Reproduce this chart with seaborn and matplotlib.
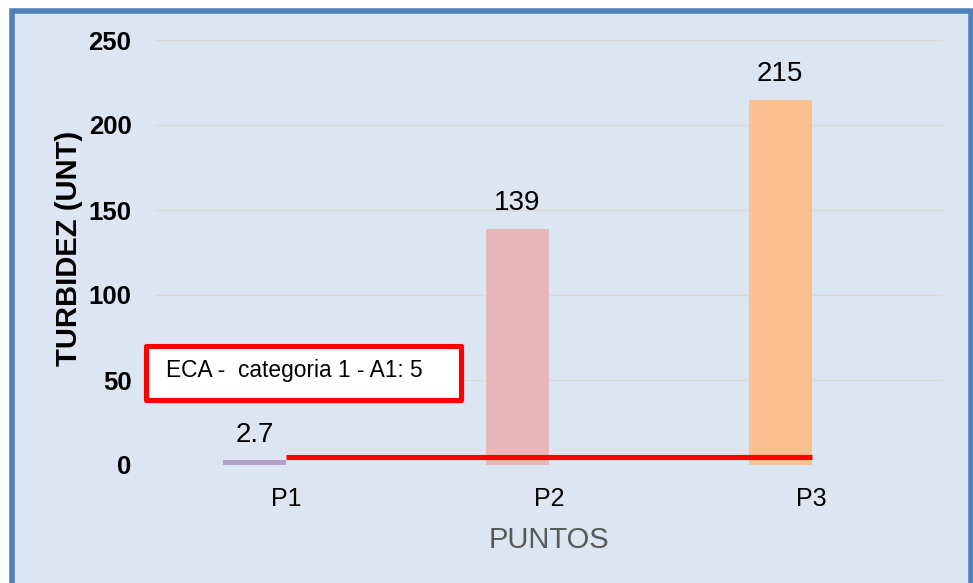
import matplotlib
matplotlib.use("Agg")
import matplotlib.pyplot as plt
import seaborn as sns
import pandas as pd
from matplotlib.patches import Rectangle

# ---- data ----
puntos = ["P1", "P2", "P3"]
turbidez = [2.7, 139, 215]
eca_valor = 5
eca_texto = "ECA -  categoria 1 - A1: 5"
bar_colors = ["#B3A2C7", "#E6B9B8", "#FAC090"]
yticks = [0, 50, 100, 150, 200, 250]
y_label = "TURBIDEZ (UNT)"
x_label = "PUNTOS"

sns.set_theme(style="white")
plt.rcParams['font.family'] = ['Liberation Sans', 'DejaVu Sans']
plt.rcParams['text.color'] = 'black'
plt.rcParams['xtick.color'] = 'black'
plt.rcParams['ytick.color'] = 'black'
plt.rcParams['axes.labelcolor'] = 'black'

W, H = 973, 583
fig = plt.figure(figsize=(W / 100, H / 100), dpi=100)
fig.patch.set_facecolor("white")

# framed background panel
panel = Rectangle((12 / W, -0.05), (971 - 12) / W, (1 - 10.5 / H) + 0.05,
                  transform=fig.transFigure, facecolor="#DCE6F2",
                  edgecolor="#4F81BD", linewidth=4.0, zorder=-1)
fig.add_artist(panel)

ax = fig.add_axes([155 / W, (H - 465) / H, 788 / W, 425 / H])
ax.set_facecolor("none")

df = pd.DataFrame({"Punto": puntos, "Turbidez": turbidez})
sns.barplot(data=df, x="Punto", y="Turbidez", hue="Punto", palette=bar_colors,
            width=0.24, linewidth=0, saturation=1, legend=False, ax=ax, zorder=2)

# Excel-style clustered layout: bar sits left of the category centre
for p in ax.patches:
    p.set_x(p.get_x() - p.get_width() / 2)

for cont, v in zip(ax.containers, turbidez):
    ax.bar_label(cont, labels=[f"{v:g}"], padding=9, fontsize=20, color="black")

# ECA limit line
ax.plot(range(len(puntos)), [eca_valor] * len(puntos), color="#FF0000",
        lw=3.7, solid_capstyle="butt", zorder=3)

ax.set_xlim(-0.5, len(puntos) - 0.5)
ax.set_ylim(0, 250)
ax.set_yticks(yticks)
ax.set_yticklabels([str(t) for t in yticks], fontsize=18.5, fontweight="bold",
                   color="black")
ax.tick_params(axis="y", length=0, pad=17, colors="black")
ax.tick_params(axis="x", length=0, pad=16, labelsize=18, colors="black")
ax.yaxis.grid(True, color="#D9D9D9", lw=1.0)
ax.set_axisbelow(True)
for s in ax.spines.values():
    s.set_visible(False)

ax.set_xlabel(x_label, fontsize=21, color="#595959", labelpad=11)
ax.set_ylabel(y_label, fontsize=21, fontweight="bold", color="black")
ax.yaxis.set_label_coords(-0.092, 0.51)

# ECA annotation box
box = Rectangle((145.5 / W, 1 - 399.5 / H), 315 / W, 54 / H,
                transform=fig.transFigure, facecolor="white",
                edgecolor="#FF0000", linewidth=3.7, joinstyle="round", zorder=4)
fig.add_artist(box)
fig.text(166 / W, 1 - 371 / H, eca_texto, fontsize=16.4, ha="left",
         va="center", color="black", zorder=5)

fig.savefig("out.png", dpi=100)
